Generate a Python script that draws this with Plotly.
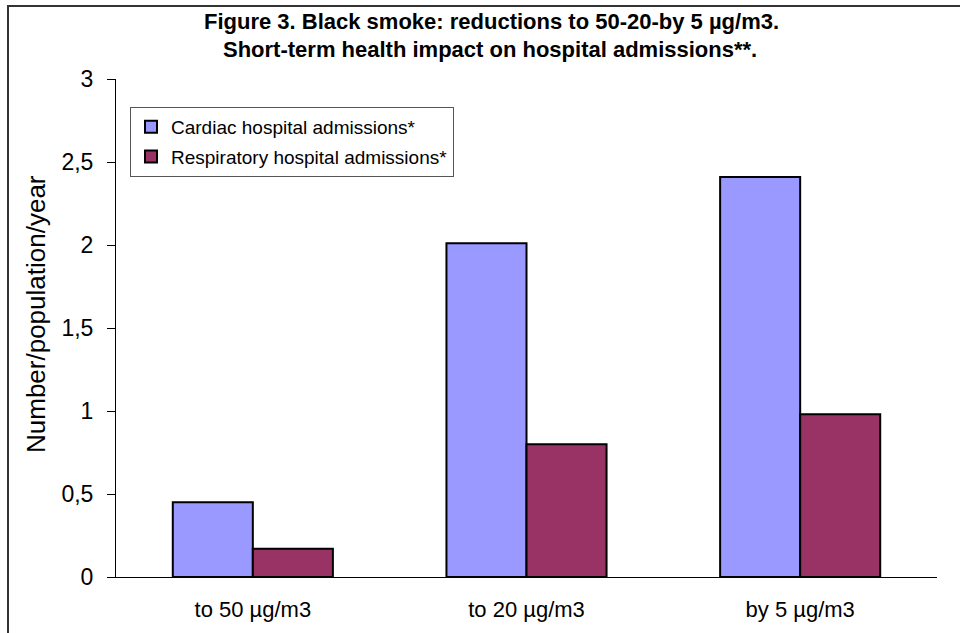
import plotly.graph_objects as go

categories = ["to 50 µg/m3", "to 20 µg/m3", "by 5 µg/m3"]
cardiac = [0.45, 2.01, 2.41]
respiratory = [0.17, 0.80, 0.98]
series_names = ["Cardiac hospital admissions*", "Respiratory hospital admissions*"]
ytick_vals = [0, 0.5, 1, 1.5, 2, 2.5, 3]
ytick_text = ["0", "0,5", "1", "1,5", "2", "2,5", "3"]
title_lines = ["Figure 3. Black smoke: reductions to 50-20-by 5 µg/m3.",
               "Short-term health impact on hospital admissions**."]
ytitle = "Number/population/year"

FONT = "Liberation Sans, Arial, sans-serif"
W, H = 960, 633
L, R, T, B = 116, 23, 79, 56
pw, ph = W - L - R, H - T - B

def px_x(x):
    return (x - L) / pw

def px_y(y):
    return (H - B - y) / ph

fig = go.Figure()
fig.add_trace(go.Bar(x=categories, y=cardiac, name=series_names[0], legendgroup="c",
                     marker=dict(color="#9999FF", line=dict(color="black", width=2))))
fig.add_trace(go.Bar(x=categories, y=respiratory, name=series_names[1], legendgroup="r",
                     marker=dict(color="#993366", line=dict(color="black", width=2))))

annotations = [
    dict(text=ytitle, textangle=-90, x=px_x(36), y=px_y(314),
         xref="paper", yref="paper", showarrow=False,
         font=dict(size=26), xanchor="center", yanchor="middle"),
    dict(text="<b>" + title_lines[0] + "</b>", x=px_x(491), y=px_y(22),
         xref="paper", yref="paper", showarrow=False,
         font=dict(size=22), xanchor="center", yanchor="middle"),
    dict(text="<b>" + title_lines[1] + "</b>", x=px_x(490), y=px_y(50),
         xref="paper", yref="paper", showarrow=False,
         font=dict(size=22), xanchor="center", yanchor="middle"),
]

fig.update_layout(
    width=W, height=H,
    margin=dict(l=L, r=R, t=T, b=B),
    paper_bgcolor="white", plot_bgcolor="white",
    barmode="group", bargap=0.415, bargroupgap=0,
    font=dict(family=FONT, color="black"),
    showlegend=True,
    legend=dict(x=px_x(130), y=px_y(107), xanchor="left", yanchor="top",
                bordercolor="#555555", borderwidth=1, bgcolor="white",
                font=dict(size=19), itemwidth=30, tracegroupgap=2),
    xaxis=dict(showline=True, linecolor="black", linewidth=1, ticks="",
               tickfont=dict(size=22), showgrid=False, zeroline=False,
               ticklabelstandoff=13),
    yaxis=dict(range=[0, 3], tickvals=ytick_vals, ticktext=ytick_text,
               showline=True, linecolor="black", linewidth=1,
               ticks="outside", ticklen=8, tickcolor="black",
               tickfont=dict(size=23), showgrid=False, zeroline=False,
               ticklabelstandoff=9),
    annotations=annotations,
    shapes=[dict(type="rect", xref="paper", yref="paper",
                 x0=px_x(8), x1=px_x(975), y0=px_y(650), y1=px_y(6),
                 line=dict(color="#333333", width=2), fillcolor="rgba(0,0,0,0)",
                 layer="below")],
)

fig.write_html("out.html", config={"displayModeBar": False},
               post_script="document.body.style.margin='0';")
